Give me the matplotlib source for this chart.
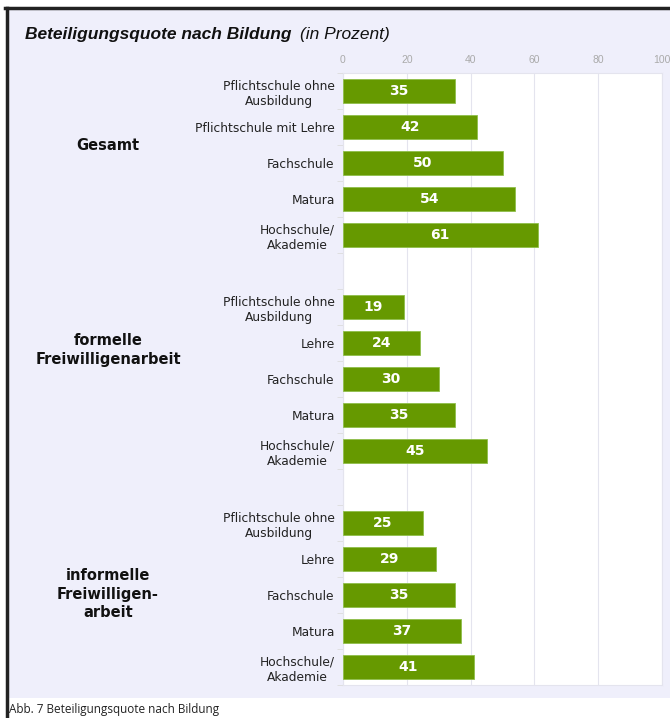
import matplotlib.pyplot as plt
from matplotlib.patches import Rectangle
from matplotlib.lines import Line2D

# data
groups = ["Gesamt", "formelle\nFreiwilligenarbeit", "informelle\nFreiwilligen-\narbeit"]
cats_gesamt = ["Pflichtschule ohne\nAusbildung", "Pflichtschule mit Lehre", "Fachschule",
               "Matura", "Hochschule/\nAkademie"]
cats_sub = ["Pflichtschule ohne\nAusbildung", "Lehre", "Fachschule", "Matura",
            "Hochschule/\nAkademie"]
vals_gesamt = [35, 42, 50, 54, 61]
vals_formell = [19, 24, 30, 35, 45]
vals_informell = [25, 29, 35, 37, 41]
x_ticks = [0, 20, 40, 60, 80, 100]

W, H = 670, 718
green = "#669900"
lav = "#efeffb"

fig = plt.figure(figsize=(W / 100, H / 100), dpi=100)
fig.patch.set_facecolor("white")

# lavender panel + dark frame
fig.add_artist(Rectangle((8 / W, 1 - 698 / H), 1, (698 - 9) / H, transform=fig.transFigure,
                         facecolor=lav, edgecolor="none", zorder=0))
fig.add_artist(Line2D([6.5 / W, 6.5 / W], [0, 1 - 8 / H], transform=fig.transFigure,
                      color="#222222", lw=2.5))
fig.add_artist(Line2D([5 / W, 1], [1 - 8 / H, 1 - 8 / H], transform=fig.transFigure,
                      color="#222222", lw=2.5))

ax = fig.add_axes([343 / W, 1 - 685 / H, (662 - 343) / W, (685 - 73) / H])
ax.set_facecolor("white")

labels = []
values = []
pos = []
i = 0
for cats, vals in [(cats_gesamt, vals_gesamt), (cats_sub, vals_formell), (cats_sub, vals_informell)]:
    for c, v in zip(cats, vals):
        labels.append(c)
        values.append(v)
        pos.append(i)
        i += 1
    i += 1

bars = ax.barh(pos, values, height=0.67, color=green, edgecolor="#8fbf4a", linewidth=0.6, zorder=3)
for p, v in zip(pos, values):
    ax.text(v / 2, p, str(v), ha="center", va="center", color="white",
            fontsize=10, fontweight="bold", zorder=4)

ax.set_xlim(0, 100)
ax.set_ylim(16.5, -0.5)
ax.set_xticks(x_ticks)
ax.xaxis.tick_top()
ax.tick_params(axis="x", length=0, labelsize=7.5, labelcolor="#aaaaaa", pad=6)
for lbl in ax.get_xticklabels():
    lbl.set_fontfamily("Liberation Sans")
ax.grid(axis="x", color="#e4e4ee", lw=0.8, zorder=0)
ax.set_yticks(pos)
ax.set_yticklabels(labels, fontsize=8.8, color="#222222", multialignment="center",
                   linespacing=1.25)
ax.tick_params(axis="y", length=0, pad=6)
ax.set_yticks([p + 0.5 for p in range(-1, 17)], minor=True)
ax.tick_params(axis="y", which="minor", length=4, color="#dddddd")
for s in ["top", "left", "right", "bottom"]:
    ax.spines[s].set_color("#e4e4ee")
    ax.spines[s].set_linewidth(0.8)

# group labels
fig.text(108 / W, 1 - 145 / H, groups[0], ha="center", va="center", fontsize=10.5,
         fontweight="bold", color="#111111")
fig.text(108 / W, 1 - 350 / H, groups[1], ha="center", va="center", fontsize=10.5,
         fontweight="bold", color="#111111", linespacing=1.3)
fig.text(108 / W, 1 - 594 / H, groups[2], ha="center", va="center", fontsize=10.5,
         fontweight="bold", color="#111111", linespacing=1.3)

# title
t = fig.text(25 / W, 1 - 35 / H, "Beteiligungsquote nach Bildung", ha="left", va="center",
             fontsize=12.5, fontweight="bold", fontstyle="italic", family="Liberation Sans",
             color="#111111")
fig.canvas.draw()
bb = t.get_window_extent()
fig.text(bb.x1 / W + 9 / W, 1 - 35 / H, "(in Prozent)", ha="left", va="center",
         fontsize=12.5, fontstyle="italic", family="Liberation Sans", color="#111111")

# caption
fig.text(9 / W, 1 - 710 / H, "Abb. 7 Beteiligungsquote nach Bildung", ha="left", va="center",
         fontsize=8.5, family="Open Sans", color="#222222")

fig.savefig("out.png", dpi=100)
